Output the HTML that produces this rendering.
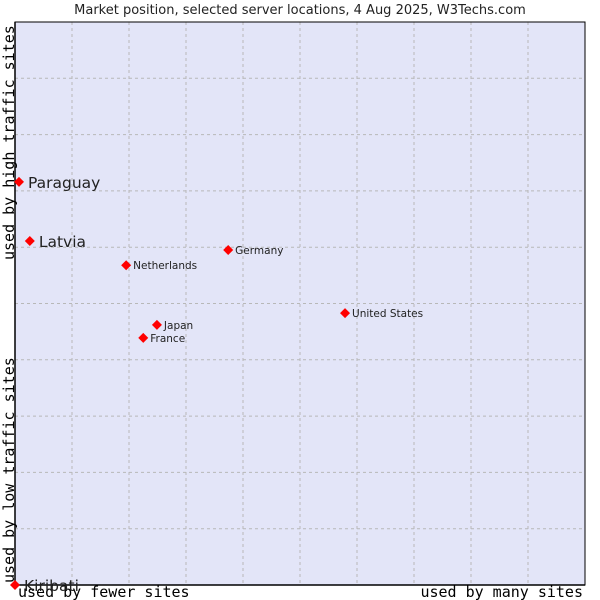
<!DOCTYPE html>
<html><head><meta charset="utf-8"><style>
body{margin:0;background:#fff;width:600px;height:600px;overflow:hidden}
svg{display:block}
</style></head><body>
<svg id="chart" width="600" height="600" xmlns="http://www.w3.org/2000/svg">
<text x="300" y="14" text-anchor="middle" font-family="'DejaVu Sans',sans-serif" font-size="13" fill="#222">Market position, selected server locations, 4 Aug 2025, W3Techs.com</text>
<rect x="15" y="22" width="570" height="563" fill="#e3e5f8"/>
<g id="grid"></g>
<path d="M15 22 V585 H585" fill="none" stroke="#000" stroke-width="1.5"/>
<rect x="15" y="22" width="570" height="563" fill="none" stroke="#000" stroke-width="1"/>
<text transform="translate(14,260) rotate(-90)" font-family="'DejaVu Sans Mono','Liberation Mono',monospace" font-size="15" fill="#000">used by high traffic sites</text>
<text transform="translate(14,583) rotate(-90)" font-family="'DejaVu Sans Mono','Liberation Mono',monospace" font-size="15" fill="#000">used by low traffic sites</text>
<text x="18" y="597" font-family="'DejaVu Sans Mono','Liberation Mono',monospace" font-size="15" fill="#000">used by fewer sites</text>
<text x="583" y="597" text-anchor="end" font-family="'DejaVu Sans Mono','Liberation Mono',monospace" font-size="15" fill="#000">used by many sites</text>
<g id="points"></g>
</svg>
<script>
const names=["Paraguay","Latvia","Netherlands","Germany","United States","Japan","France","Kiribati"];
const xVals=[0.7,2.6,19.5,37.4,57.9,24.9,22.5,0];
const yVals=[71.6,61.1,56.8,59.5,48.3,46.2,43.9,0];
const big=[true,true,false,false,false,false,false,true];
const L=15,T=22,W=570,H=563;
const xs=v=>L+v/100*W, ys=v=>T+H-v/100*H;
const NS="http://www.w3.org/2000/svg";
const g=document.getElementById('grid');
for(let i=1;i<10;i++){
 const a=document.createElementNS(NS,'line');
 a.setAttribute('x1',xs(i*10));a.setAttribute('x2',xs(i*10));a.setAttribute('y1',T);a.setAttribute('y2',T+H);
 a.setAttribute('stroke','#b8b8b8');a.setAttribute('stroke-dasharray','3,3');
 
 
 g.appendChild(a);
 const b=document.createElementNS(NS,'line');
 b.setAttribute('y1',ys(i*10));b.setAttribute('y2',ys(i*10));b.setAttribute('x1',L);b.setAttribute('x2',L+W);
 b.setAttribute('stroke','#b8b8b8');b.setAttribute('stroke-dasharray','3,3');
 
 
 g.appendChild(b);
}
const p=document.getElementById('points');
names.forEach((n,i)=>{
 const x=xs(xVals[i]),y=ys(yVals[i]);
 const c=document.createElementNS(NS,'path');
 c.setAttribute('d',`M${x} ${y-5}L${x+5} ${y}L${x} ${y+5}L${x-5} ${y}Z`);
 c.setAttribute('fill','#f00');
 
 
 p.appendChild(c);
 const t=document.createElementNS(NS,'text');
 t.setAttribute('x',x+(big[i]?9:7));t.setAttribute('y',y+(big[i]?6:4));
 t.setAttribute('font-family',"'DejaVu Sans',sans-serif");
 t.setAttribute('font-size',big[i]?15.5:10.5);
 t.setAttribute('fill','#222');
 t.textContent=n;
 
 
 p.appendChild(t);
});
</script>
</body></html>
